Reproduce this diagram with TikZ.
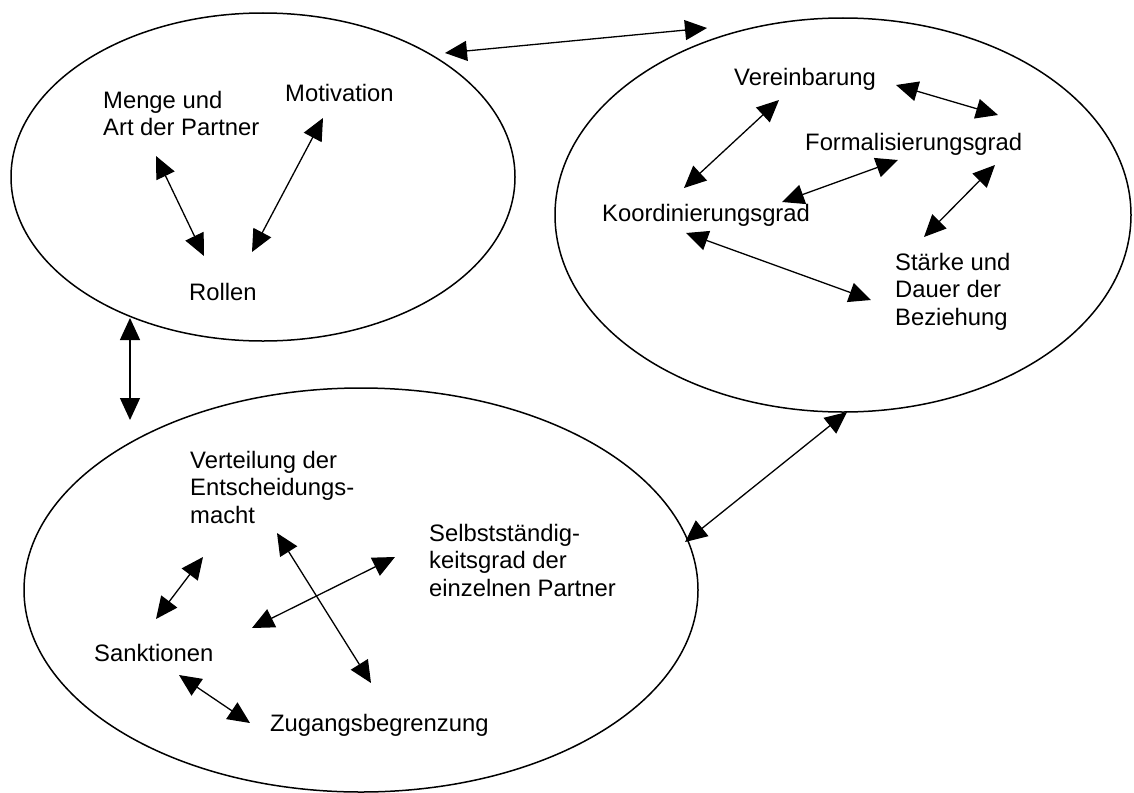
\documentclass[tikz,border=0pt]{standalone}
\usepackage{fontspec}
\setmainfont{Liberation Sans}
\usetikzlibrary{arrows.meta}
\begin{document}
\begin{tikzpicture}[x=1pt,y=-1pt,
  label/.style={inner sep=0pt,anchor=base west,align=left,
    font=\fontsize{23.8pt}{27.5pt}\selectfont},
  ring/.style={line width=1.5pt},
  link/.style={line width=1.3pt,{Triangle[length=22pt,width=20pt]}-{Triangle[length=22pt,width=20pt]}}]
\useasboundingbox (0,0) rectangle (1134,792);

% three clusters
\draw[ring] (263,177) ellipse [x radius=252, y radius=164];
\draw[ring] (843,215) ellipse [x radius=288, y radius=197];
\draw[ring] (361,590) ellipse [x radius=337, y radius=202];

% upper left cluster (multi-line labels sit on the baseline of their last line)
\node[label] (menge) at (103,135.5) {Menge und\\Art der Partner};
\node[label] (motiv) at (285,101) {Motivation};
\node[label] (rollen) at (189,300) {Rollen};

% right cluster
\node[label] (verein) at (734,85) {Vereinbarung};
\node[label] (formal) at (805,150) {Formalisierungsgrad};
\node[label] (koord) at (602,221) {Koordinierungsgrad};
\node[label] (staerke) at (895,325) {Stärke und\\Dauer der\\Beziehung};

% lower cluster
\node[label] (verteil) at (190,523) {Verteilung der\\Entscheidungs-\\macht};
\node[label] (selbst) at (429,596) {Selbstständig-\\keitsgrad der\\einzelnen Partner};
\node[label] (sankt) at (94,661) {Sanktionen};
\node[label] (zugang) at (270,731) {Zugangsbegrenzung};

% arrow end points
\coordinate (e1top) at (445,53);   \coordinate (e2top) at (707,28);
\coordinate (e1bot) at (130,318);  \coordinate (e3top) at (130,420);
\coordinate (e2bot) at (847,412);  \coordinate (e3rgt) at (685,542);

\coordinate (mengeA) at (156,156); \coordinate (rollenA) at (204,256);
\coordinate (motivA) at (323,118); \coordinate (rollenB) at (252,252);

\coordinate (vereinA) at (896,85);  \coordinate (formalA) at (998,115);
\coordinate (vereinB) at (779,100); \coordinate (koordA) at (684,188);
\coordinate (formalB) at (898,160); \coordinate (koordB) at (782,202);
\coordinate (formalC) at (995,165); \coordinate (staerkeA) at (924,237);
\coordinate (koordC) at (686,233);  \coordinate (staerkeB) at (871,300);

\coordinate (verteilA) at (277,533); \coordinate (zugangA) at (371,683);
\coordinate (selbstA) at (395,557);  \coordinate (mitte) at (252,628);
\coordinate (verteilB) at (203,557); \coordinate (sanktA) at (156,619);
\coordinate (sanktB) at (179,675);   \coordinate (zugangB) at (250,723);

% links between clusters
\draw[link] (e1top) -- (e2top);
\draw[link] (e1bot) -- (e3top);
\draw[link] (e2bot) -- (e3rgt);

% links inside clusters
\draw[link] (mengeA) -- (rollenA);
\draw[link] (motivA) -- (rollenB);

\draw[link] (vereinA) -- (formalA);
\draw[link] (vereinB) -- (koordA);
\draw[link] (formalB) -- (koordB);
\draw[link] (formalC) -- (staerkeA);
\draw[link] (koordC) -- (staerkeB);

\draw[link] (verteilA) -- (zugangA);
\draw[link] (selbstA) -- (mitte);
\draw[link] (verteilB) -- (sanktA);
\draw[link] (sanktB) -- (zugangB);
\end{tikzpicture}
\end{document}
